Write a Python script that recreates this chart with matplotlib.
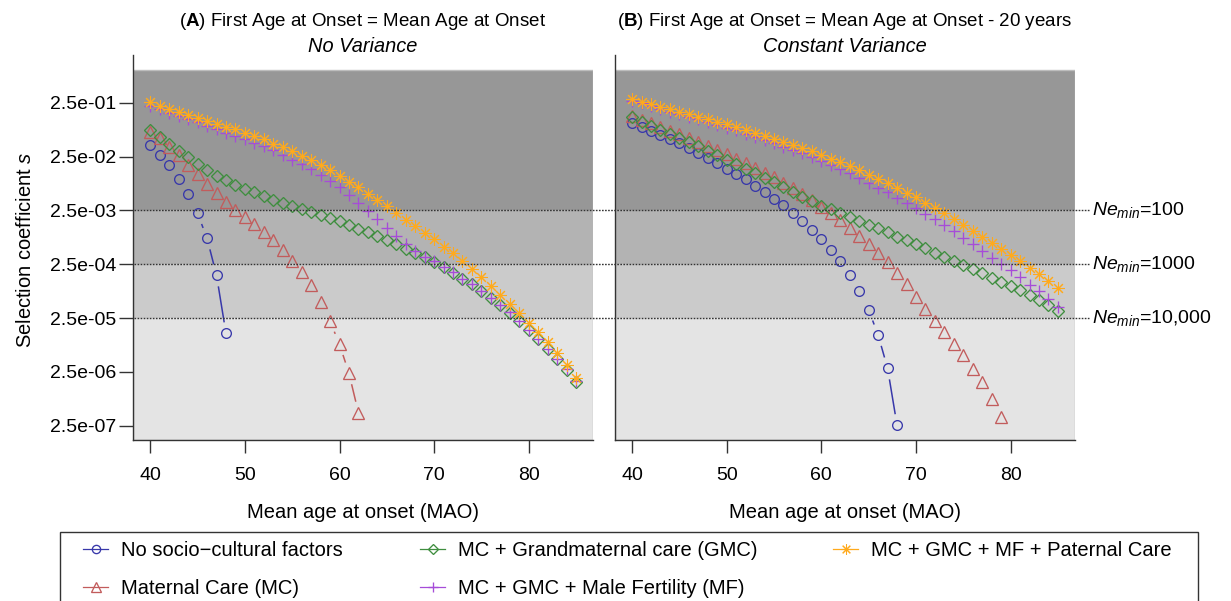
import numpy as np
import matplotlib
matplotlib.use("Agg")
import matplotlib.pyplot as plt
from matplotlib import transforms
from matplotlib.lines import Line2D
from matplotlib.patches import Rectangle
from matplotlib.ticker import NullLocator

plt.rcParams["font.family"] = ["Liberation Sans", "DejaVu Sans"]
plt.rcParams["mathtext.fontset"] = "custom"
plt.rcParams["mathtext.rm"] = "Liberation Sans"
plt.rcParams["mathtext.it"] = "Liberation Sans:italic"
plt.rcParams["mathtext.bf"] = "Liberation Sans:bold"

# ---------------------------------------------------------------- data
# Panel A: first age at onset = mean age at onset (no variance)
age_a_none = np.arange(40, 49)
a_none = [0.0401, 0.0267, 0.01705, 0.0097, 0.00504, 0.00219, 0.000752,
          0.0001558, 1.295e-5]
age_a_mc = np.arange(40, 63)
a_mc = [0.0699, 0.0546, 0.0381, 0.0264, 0.01765, 0.0117, 0.00757, 0.00519,
        0.00358, 0.00252, 0.001885, 0.001368, 0.00098, 0.00069, 0.000454,
        0.000291, 0.000177, 0.0001008, 4.91e-5, 2.18e-5, 8.16e-6, 2.36e-6,
        4.38e-7]
age_full = np.arange(40, 86)
a_gmc = [0.0778, 0.0577, 0.0419, 0.0317, 0.0248, 0.0183, 0.0141, 0.0111,
         0.00898, 0.0075, 0.00624, 0.00537, 0.00457, 0.00395, 0.00343,
         0.00302, 0.00266, 0.00236, 0.00204, 0.00178, 0.00157, 0.00135,
         0.00115, 0.000993, 0.000837, 0.000705, 0.000594, 0.000486,
         0.000409, 0.000341, 0.000278, 0.000219, 0.000174, 0.000133,
         0.000106, 7.96e-5, 5.83e-5, 4.38e-5, 3.15e-5, 2.21e-5, 1.50e-5,
         1.01e-5, 6.67e-6, 4.29e-6, 2.72e-6, 1.65e-6]
a_mf = [0.217, 0.187, 0.161, 0.1416, 0.1245, 0.1072, 0.0923, 0.0795, 0.0684,
        0.0602, 0.0518, 0.0446, 0.0384, 0.0324, 0.0267, 0.022, 0.0178,
        0.0144, 0.01136, 0.00879, 0.00666, 0.00483, 0.00339, 0.00244,
        0.00171, 0.00119, 0.000848, 0.000587, 0.000431, 0.000345, 0.000282,
        0.000222, 0.000177, 0.000135, 0.000108, 8.1e-5, 5.93e-5, 4.46e-5,
        3.21e-5, 2.25e-5, 1.53e-5, 1.03e-5, 6.8e-6, 4.38e-6, 2.78e-6,
        1.69e-6]
a_pc = [0.254, 0.220, 0.191, 0.170, 0.150, 0.1316, 0.1158, 0.1019, 0.0896,
        0.0802, 0.0693, 0.0602, 0.0523, 0.0433, 0.0371, 0.0313, 0.0259,
        0.0213, 0.0174, 0.0139, 0.0110, 0.00853, 0.00681, 0.00511, 0.00385,
        0.00298, 0.00227, 0.00168, 0.00127, 0.000964, 0.000726, 0.00053,
        0.000396, 0.000287, 0.000207, 0.000143, 0.0001, 6.72e-5, 4.57e-5,
        3.07e-5, 2.06e-5, 1.40e-5, 9.0e-6, 5.62e-6, 3.36e-6, 1.93e-6]

# Panel B: first age at onset = mean age at onset - 20 years (constant variance)
age_b_none = np.arange(40, 69)
b_none = [0.1063, 0.0896, 0.0755, 0.062, 0.0523, 0.0441, 0.0356, 0.0287,
          0.0232, 0.0187, 0.01487, 0.01186, 0.00945, 0.0071, 0.00542,
          0.00402, 0.00311, 0.00221, 0.00159, 0.00108, 0.000726, 0.00046,
          0.000284, 0.000158, 8.07e-5, 3.53e-5, 1.21e-5, 2.92e-6, 2.55e-7]
age_b_mc = np.arange(40, 80)
b_mc = [0.1416, 0.1193, 0.1036, 0.0896, 0.0755, 0.0656, 0.0553, 0.0466,
        0.0392, 0.0331, 0.0279, 0.0228, 0.0187, 0.01532, 0.01253, 0.0103,
        0.00817, 0.00643, 0.00498, 0.0039, 0.00293, 0.00227, 0.00166,
        0.00119, 0.000848, 0.000594, 0.000399, 0.000272, 0.00017, 0.0001075,
        6.24e-5, 3.61e-5, 2.21e-5, 1.35e-5, 8.37e-6, 5.1e-6, 2.87e-6,
        1.63e-6, 7.96e-7, 3.6e-7]
b_gmc = [0.1339, 0.1109, 0.0935, 0.0778, 0.0656, 0.0553, 0.0466, 0.0392,
         0.0321, 0.0264, 0.0216, 0.0182, 0.01487, 0.0122, 0.00999, 0.00831,
         0.00689, 0.00549, 0.00449, 0.00379, 0.00306, 0.00262, 0.00221,
         0.00191, 0.00159, 0.001357, 0.001163, 0.000993, 0.000812, 0.000696,
         0.000594, 0.000494, 0.00041, 0.000345, 0.000287, 0.000242,
         0.000201, 0.00017, 0.000141, 0.000119, 9.87e-5, 8.31e-5, 6.72e-5,
         5.42e-5, 4.38e-5, 3.32e-5]
b_mf = [0.269, 0.244, 0.217, 0.1935, 0.170, 0.1522, 0.1357, 0.1229, 0.1081,
        0.0963, 0.0858, 0.0768, 0.0656, 0.0584, 0.0501, 0.0441, 0.0376,
        0.0327, 0.0287, 0.0245, 0.0207, 0.0174, 0.01487, 0.0122, 0.0101,
        0.00807, 0.00652, 0.00542, 0.0043, 0.00348, 0.00277, 0.00217,
        0.00171, 0.00132, 0.00102, 0.000769, 0.000587, 0.000446, 0.000327,
        0.000256, 0.000193, 0.000143, 0.000104, 7.86e-5, 5.73e-5, 4.02e-5]
b_pc = [0.289, 0.261, 0.2365, 0.2107, 0.1885, 0.168, 0.1522, 0.1374, 0.1229,
        0.1095, 0.0993, 0.0896, 0.0778, 0.0693, 0.0602, 0.0536, 0.0466,
        0.041, 0.036, 0.0313, 0.0267, 0.0228, 0.0198, 0.0167, 0.01407,
        0.01136, 0.00945, 0.00797, 0.00643, 0.00533, 0.00438, 0.00348,
        0.00281, 0.00221, 0.00175, 0.00134, 0.00105, 0.000812, 0.000612,
        0.000486, 0.000376, 0.000284, 0.000213, 0.000165, 0.000124, 8.94e-5]

series_labels = ["No socio\u2212cultural factors", "Maternal Care (MC)",
                 "MC + Grandmaternal care (GMC)",
                 "MC + GMC + Male Fertility (MF)",
                 "MC + GMC + MF + Paternal Care"]

y_ticks = [2.5e-1, 2.5e-2, 2.5e-3, 2.5e-4, 2.5e-5, 2.5e-6, 2.5e-7]
y_tick_labels = ["2.5e-01", "2.5e-02", "2.5e-03", "2.5e-04", "2.5e-05",
                 "2.5e-06", "2.5e-07"]
x_ticks = [40, 50, 60, 70, 80]
ne_levels = [2.5e-3, 2.5e-4, 2.5e-5]
ne_labels = [r"$\mathit{Ne}_{\mathit{min}}$=100",
             r"$\mathit{Ne}_{\mathit{min}}$=1000",
             r"$\mathit{Ne}_{\mathit{min}}$=10,000"]
band_edges = [1.0, 2.5e-3, 2.5e-4, 2.5e-5]

# ---------------------------------------------------------------- styles
styles = [
    dict(color="#3838aa", marker="o", ms=7.0, mew=0.95),
    dict(color="#c25c5c", marker="^", ms=8.0, mew=0.95),
    dict(color="#3f8e3f", marker="D", ms=6.2, mew=0.95),
    dict(color="#a64cd8", marker="+", ms=9.0, mew=0.95),
    dict(color="#ffaa1c", marker=(8, 2, 0), ms=9.0, mew=0.75),
]
band_colors = ["#979797", "#b3b3b3", "#cbcbcb", "#e4e4e4"]

W, H = 1231, 601
fig = plt.figure(figsize=(W / 100, H / 100), dpi=100)
ax_top, ax_bot = 55, 440
axA = fig.add_axes([133.3 / W, 1 - ax_bot / H, 459.7 / W, (ax_bot - ax_top) / H])
axB = fig.add_axes([615 / W, 1 - ax_bot / H, 460 / W, (ax_bot - ax_top) / H])

XLIM = (38.2, 86.8)
YLIM = (1.36e-7, 1.92)


def gapped(ax, x, y, gap_px=12.0):
    """Line segments between consecutive points, trimmed around each marker."""
    pts = ax.transData.transform(np.column_stack([x, y]))
    inv = ax.transData.inverted()
    xs, ys = [], []
    for p, q in zip(pts[:-1], pts[1:]):
        d = q - p
        length = np.hypot(d[0], d[1])
        if length <= 2 * gap_px:
            continue
        u = d / length
        seg = inv.transform(np.array([p + u * gap_px, q - u * gap_px]))
        xs += [seg[0, 0], seg[1, 0], np.nan]
        ys += [seg[0, 1], seg[1, 1], np.nan]
    return xs, ys


for ax in (axA, axB):
    ax.set_yscale("log")
    ax.set_xlim(*XLIM)
    ax.set_ylim(*YLIM)
    lows = band_edges[1:] + [YLIM[0]]
    for hi, lo, c in zip(band_edges, lows, band_colors):
        ax.axhspan(lo, hi, color=c, lw=0, zorder=0)
    ax.add_patch(Rectangle((XLIM[0], YLIM[0]), XLIM[1] - XLIM[0],
                           1.0 - YLIM[0], fill=False, edgecolor="#bdbdbd",
                           lw=1.0, zorder=0.5))
    for s in ("top", "right"):
        ax.spines[s].set_visible(False)
    for s in ("left", "bottom"):
        ax.spines[s].set_color("#333333")
        ax.spines[s].set_linewidth(1.0)
    ax.set_xticks(x_ticks)
    ax.xaxis.set_minor_locator(NullLocator())
    ax.yaxis.set_minor_locator(NullLocator())
    ax.tick_params(axis="x", direction="out", length=9.5, width=1.0,
                   color="#333333", labelsize=14, pad=10)
    ax.set_xlabel("Mean age at onset (MAO)", fontsize=14.5)
    ax.xaxis.set_label_coords(0.5, -(503 - ax_bot) / (ax_bot - ax_top))
    ax.xaxis.label.set_va("top")

axA.set_yticks(y_ticks)
axA.set_yticklabels(y_tick_labels)
axA.tick_params(axis="y", direction="out", length=10, width=1.0,
                color="#333333", labelsize=14, pad=2.5)
axB.set_yticks([])

panels = [
    (axA, [(age_a_none, a_none), (age_a_mc, a_mc), (age_full, a_gmc),
           (age_full, a_mf), (age_full, a_pc)]),
    (axB, [(age_b_none, b_none), (age_b_mc, b_mc), (age_full, b_gmc),
           (age_full, b_mf), (age_full, b_pc)]),
]
for ax, data in panels:
    for (x, y), st in zip(data, styles):
        gx, gy = gapped(ax, x, y)
        ax.plot(gx, gy, color=st["color"], lw=1.1, zorder=3)
        ax.plot(x, y, ls="none", marker=st["marker"], ms=st["ms"],
                mfc="none", mec=st["color"], mew=st["mew"], zorder=3)

# Reference thresholds spanning both panels
trans = transforms.blended_transform_factory(fig.transFigure, axA.transData)
for lvl, lab in zip(ne_levels, ne_labels):
    fig.add_artist(Line2D([134 / W, 1090 / W], [lvl, lvl], transform=trans,
                          color="#333333", lw=1.0, ls=(0, (1.2, 1.0)),
                          zorder=2.5))
    fig.text(1092 / W, lvl, lab, transform=trans, ha="left", va="center",
             fontsize=14)

# Titles
for cx, t1, t2 in [(363, r"($\mathbf{A}$) First Age at Onset = Mean Age at Onset",
                    "No Variance"),
                   (845, r"($\mathbf{B}$) First Age at Onset = Mean Age at Onset - 20 years",
                    "Constant Variance")]:
    fig.text(cx / W, 1 - 22 / H, t1, ha="center", va="center", fontsize=13.5)
    fig.text(cx / W, 1 - 47 / H, t2, ha="center", va="center",
             fontsize=14.4, style="italic")

fig.text(26 / W, 1 - 250 / H, r"Selection coefficient $\mathit{s}$",
         rotation=90, ha="center", va="center", fontsize=14.5)

# Legend box (bottom edge runs past the figure)
fig.add_artist(Rectangle((60 / W, -0.05), 1138 / W, 0.05 + 1 - 532 / H,
                         transform=fig.transFigure, fill=False,
                         edgecolor="#333333", lw=1.0))
handles = [Line2D([], [], color=st["color"], lw=0.9, marker=st["marker"],
                  ms=st["ms"] * 0.85, mfc="none", mec=st["color"],
                  mew=st["mew"])
           for st in styles]
columns = [(83, [0, 1]), (420, [2, 3]), (833, [4])]
for x0, idx in columns:
    fig.legend([handles[i] for i in idx], [series_labels[i] for i in idx],
               loc="upper left", bbox_to_anchor=(x0 / W, 1 - 541 / H),
               frameon=False, fontsize=14.5, borderpad=0, borderaxespad=0,
               handlelength=1.25, handletextpad=0.65, labelspacing=0.95)

fig.savefig("out.png", dpi=100)
